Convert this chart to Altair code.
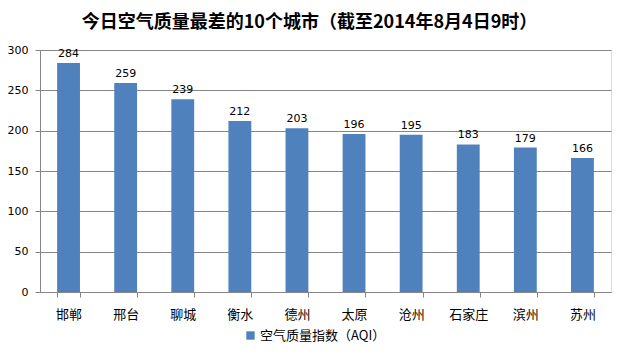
import altair as alt
import pandas as pd

cities = ["邯郸", "邢台", "聊城", "衡水", "德州", "太原", "沧州", "石家庄", "滨州", "苏州"]
aqi = [284, 259, 239, 212, 203, 196, 195, 183, 179, 166]
series_name = "空气质量指数（AQI）"
title_text = "今日空气质量最差的10个城市（截至2014年8月4日9时）"

df = pd.DataFrame({"city": cities, "aqi": aqi, "series": [series_name] * len(cities)})

FONT = "Noto Sans CJK SC"
NUMFONT = "DejaVu Sans"

base = alt.Chart(df).encode(
    x=alt.X("city:N", sort=cities, title=None,
            scale=alt.Scale(paddingInner=0.6, paddingOuter=0.3),
            axis=alt.Axis(labelAngle=0, tickBand="extent", tickSize=5, domainColor="#868686",
                          tickColor="#868686", labelFontSize=13, labelPadding=11, labelColor="#000000",
                          labelFont=FONT, grid=False)),
    y=alt.Y("aqi:Q", title=None,
            scale=alt.Scale(domain=[0, 300], nice=False),
            axis=alt.Axis(values=[0, 50, 100, 150, 200, 250, 300], tickSize=5, labelPadding=7,
                          domainColor="#868686", tickColor="#868686", gridColor="#868686",
                          labelFontSize=11, labelColor="#000000", labelFont=NUMFONT)),
)

bars = base.mark_bar(color="#4F81BD").encode(
    color=alt.Color("series:N", scale=alt.Scale(range=["#4F81BD"]),
                    legend=alt.Legend(title=None, orient="none", legendX=204, legendY=279,
                                      symbolType="square", symbolSize=70, labelFontSize=13,
                                      symbolFillColor="#4F81BD", symbolStrokeWidth=0,
                                      labelFont=FONT, labelColor="#000000", symbolOpacity=1,
                                      labelOffset=3))
)

labels = base.mark_text(dy=-9, fontSize=11, font=NUMFONT, color="#000000").encode(
    text="aqi:Q"
)

chart = (bars + labels).properties(
    width=571, height=242,
    title=alt.TitleParams(title_text, fontSize=18, font=FONT, fontWeight="bold", color="#000000",
                          anchor="middle", dx=-16, offset=12),
    padding={"left": 40, "top": 50, "right": 12, "bottom": 64},
    autosize=alt.AutoSizeParams(type="none"),
).configure_view(stroke=None).configure(background="#ffffff")

chart.save("out.html", embed_options={"renderer": "svg", "actions": False})
